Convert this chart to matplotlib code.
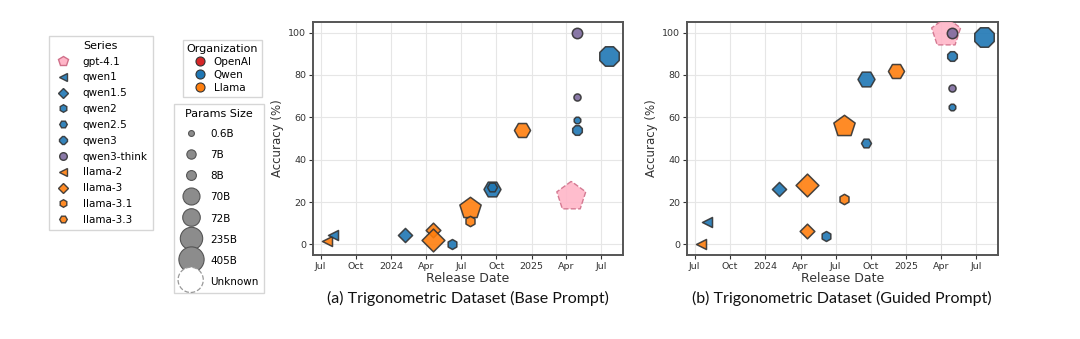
import matplotlib
matplotlib.use("Agg")
import matplotlib.pyplot as plt
import matplotlib.dates as mdates
from matplotlib.lines import Line2D
import numpy as np
import pandas as pd

plt.rcParams['font.family'] = ['DejaVu Sans']

# ---------------- data ----------------
series = ["llama-2", "qwen1", "qwen1.5", "llama-3", "llama-3", "qwen2",
          "llama-3.1", "llama-3.1", "qwen2.5", "qwen2.5", "llama-3.3",
          "gpt-4.1", "qwen3", "qwen3", "qwen3-think", "qwen3-think", "qwen3"]
dates = ["2023-07-18", "2023-08-03", "2024-02-05", "2024-04-18", "2024-04-18",
         "2024-06-07", "2024-07-23", "2024-07-23", "2024-09-19", "2024-09-19",
         "2024-12-06", "2025-04-14", "2025-04-29", "2025-04-29", "2025-04-29",
         "2025-04-29", "2025-07-21"]
params = ["7B", "7B", "7B", "8B", "70B", "7B", "405B", "8B", "72B", "7B", "70B",
          "Unknown", "8B", "0.6B", "8B", "0.6B", "235B"]
acc_base = [1.8, 4.4, 4.4, 6.7, 2.0, 0.0, 17.3, 11.0, 26.1, 27.0, 54.2,
            22.6, 54.2, 58.8, 100.0, 69.5, 88.9]
acc_guided = [0.0, 10.7, 26.1, 6.5, 28.1, 4.1, 56.1, 21.6, 78.2, 47.7, 82.1,
              100.0, 88.9, 65.1, 100.0, 73.7, 97.9]

series_order = ["gpt-4.1", "qwen1", "qwen1.5", "qwen2", "qwen2.5", "qwen3",
                "qwen3-think", "llama-2", "llama-3", "llama-3.1", "llama-3.3"]
series_org = ["OpenAI", "Qwen", "Qwen", "Qwen", "Qwen", "Qwen", "Qwen",
              "Llama", "Llama", "Llama", "Llama"]
series_marker = ["p", "<", "D", "h", "H", "8", "o", "<", "D", "h", "H"]

orgs = ["OpenAI", "Qwen", "Llama"]
org_colors = ["#d62728", "#1f77b4", "#ff7f0e"]

size_labels = ["0.6B", "7B", "8B", "70B", "72B", "235B", "405B", "Unknown"]
# ---------------------------------------

org_color = dict(zip(orgs, org_colors))
s_org = dict(zip(series_order, series_org))
s_mark = dict(zip(series_order, series_marker))
think_color = "#7d6a9e"
gpt_face = "#ffb6c8"
gpt_edge = "#d0708a"

# marker area per params size (pt^2)
size_area = dict(zip(size_labels, [26, 52, 56, 135, 150, 230, 260, 480]))
legend_area = dict(zip(size_labels, [18, 45, 50, 150, 160, 260, 330, 330]))

df = pd.DataFrame({"series": series, "date": pd.to_datetime(dates),
                   "params": params, "base": acc_base, "guided": acc_guided})


def color_of(s):
    if s == "qwen3-think":
        return think_color
    if s == "gpt-4.1":
        return gpt_face
    return org_color[s_org[s]]


def marker_of(s, p):
    if s == "llama-3.1" and p == "405B":
        return "p"
    return s_mark[s]


fig = plt.figure(figsize=(10.8, 3.39), dpi=100)
W, H = 1080, 339
ax_a = fig.add_axes([313 / W, 1 - 255 / H, 310 / W, 233 / H])
ax_b = fig.add_axes([687 / W, 1 - 255 / H, 311 / W, 233 / H])


def fmt(x, pos=None):
    d = mdates.num2date(x)
    return str(d.year) if d.month == 1 else d.strftime("%b")


for ax, col in [(ax_a, "base"), (ax_b, "guided")]:
    for _, r in df.iterrows():
        s = r["series"]
        kw = dict(s=size_area[r["params"]], marker=marker_of(s, r["params"]),
                  zorder=3)
        if s == "gpt-4.1":
            ax.scatter(r["date"], r[col], facecolor=gpt_face, edgecolor=gpt_edge,
                       linewidths=1.0, linestyle="--", alpha=0.9, **kw)
        else:
            ax.scatter(r["date"], r[col], facecolor=color_of(s),
                       edgecolor="#333333", linewidths=1.1, alpha=0.9, **kw)
    ax.margins(x=0.05, y=0.05)
    ax.xaxis.set_major_locator(mdates.MonthLocator(bymonth=[1, 4, 7, 10]))
    ax.xaxis.set_major_formatter(plt.FuncFormatter(fmt))
    ax.set_yticks([0, 20, 40, 60, 80, 100])
    ax.grid(True, color="#e6e6e6", linewidth=0.8, zorder=0)
    ax.set_axisbelow(True)
    ax.tick_params(labelsize=6.8, colors="#333333", length=3, pad=2)
    ax.set_xlabel("Release Date", fontsize=9, color="#333333", labelpad=1)
    ax.set_ylabel("Accuracy (%)", fontsize=8.5, color="#333333", labelpad=3)
    for sp in ax.spines.values():
        sp.set_color("#555555")
        sp.set_linewidth(1.4)

fig.text(468 / W, 1 - 298 / H, "(a) Trigonometric Dataset (Base Prompt)",
         ha="center", va="center", fontsize=11.5, family="Lato", color="#111111")
fig.text(842 / W, 1 - 298 / H, "(b) Trigonometric Dataset (Guided Prompt)",
         ha="center", va="center", fontsize=11.5, family="Lato", color="#111111")

# ---- Series legend ----
h_series = []
for s in series_order:
    if s == "gpt-4.1":
        h_series.append(Line2D([], [], linestyle="none", marker="p", markersize=7.5,
                               markerfacecolor=gpt_face, markeredgecolor=gpt_edge,
                               markeredgewidth=1.0))
    else:
        h_series.append(Line2D([], [], linestyle="none", marker=s_mark[s], markersize=5.5,
                               markerfacecolor=color_of(s), markeredgecolor="#333333",
                               markeredgewidth=1.0, alpha=0.9))
leg1 = fig.legend(h_series, series_order, title="Series", loc="upper left",
                  bbox_to_anchor=(49 / W, 1 - 36 / H), fontsize=7.5, title_fontsize=8,
                  frameon=True, fancybox=False, edgecolor="#cccccc",
                  handletextpad=1.0, labelspacing=0.56, borderpad=0.45,
                  borderaxespad=0, handlelength=1.8)

# ---- Organization legend ----
h_org = [Line2D([], [], linestyle="none", marker="o", markersize=6.5,
                markerfacecolor=c, markeredgecolor="#333333", markeredgewidth=0.8)
         for c in org_colors]
leg2 = fig.legend(h_org, orgs, title="Organization", loc="upper left",
                  bbox_to_anchor=(183 / W, 1 - 40 / H), fontsize=7.5, title_fontsize=8,
                  frameon=True, fancybox=False, edgecolor="#cccccc",
                  handletextpad=0.6, labelspacing=0.3, borderpad=0.35,
                  borderaxespad=0, handlelength=1.4)

# ---- Params size legend (scatter handles so the Unknown edge can be dashed) ----
h_size = []
for lab in size_labels:
    if lab == "Unknown":
        h = ax_a.scatter([], [], s=legend_area[lab], marker="o", facecolor="white",
                         edgecolor="#999999", linewidths=0.9, linestyle="--")
    else:
        h = ax_a.scatter([], [], s=legend_area[lab], marker="o", facecolor="#8c8c8c",
                         edgecolor="#555555", linewidths=0.8)
    h_size.append(h)
leg3 = fig.legend(h_size, size_labels, title="Params Size", loc="upper left",
                  bbox_to_anchor=(174 / W, 1 - 104 / H), fontsize=7.5, title_fontsize=8,
                  frameon=True, fancybox=False, edgecolor="#cccccc",
                  handletextpad=0.8, labelspacing=0.8, borderpad=0.5,
                  borderaxespad=0, scatterpoints=1, handleheight=1.5,
                  handlelength=2.2)

fig.savefig("out.png", dpi=100)
